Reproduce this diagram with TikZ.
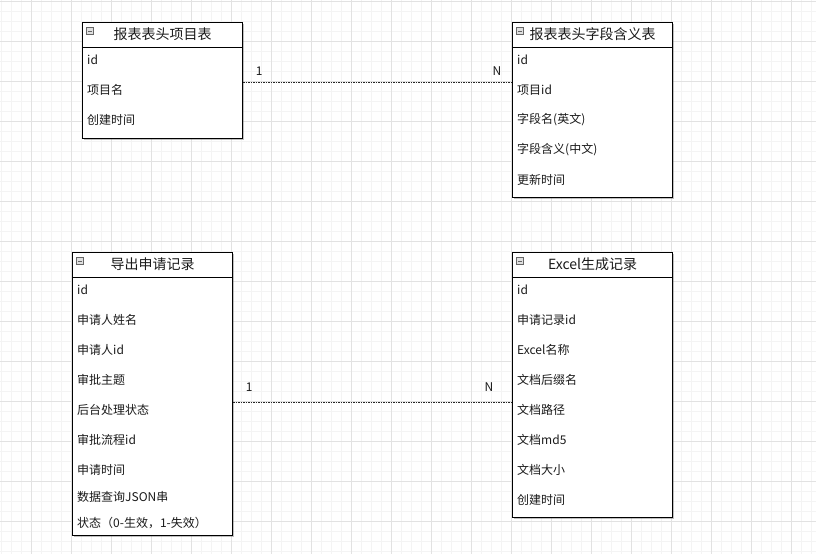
\documentclass[tikz,border=0pt]{standalone}
\usepackage{fontspec}
\setmainfont{Noto Sans CJK SC}
\usetikzlibrary{shadows}

\definecolor{gridmajor}{HTML}{E2E2E2}
\definecolor{gridminor}{HTML}{F4F4F4}
\definecolor{ink}{HTML}{1A1A1A}

\begin{document}
\begin{tikzpicture}[x=1pt, y=-1pt, >=latex,
	tbl/.style={draw=black, line width=1.1pt, fill=white, minimum width=160pt, inner sep=0pt, anchor=north west,
		drop shadow={shadow xshift=1.2pt, shadow yshift=-1.2pt, opacity=0.35, fill=black!70}},
	hline/.style={draw=black, line width=0.9pt},
	title/.style={font=\fontsize{14}{16}\selectfont, text=ink, inner sep=0pt},
	row/.style={font=\fontsize{12}{14}\selectfont, text=ink, anchor=west, inner sep=0pt},
	icon/.style={draw=black!60, fill=black!12, minimum size=7pt, inner sep=0pt, line width=0.5pt,
		path picture={\draw[line width=0.8pt] ([xshift=1.5pt]path picture bounding box.west) -- ([xshift=-1.5pt]path picture bounding box.east);}},
	rel/.style={draw=black!85, line width=0.8pt, dash pattern=on 1.5pt off 1pt},
	card/.style={font=\fontsize{12}{14}\selectfont, text=ink, inner sep=0pt}]

	%% background grid
	\useasboundingbox (0,0) rectangle (816,554);
	\fill[white] (0,0) rectangle (816,554);
	\foreach \x in {1.7,11.7,...,815} \draw[gridminor, line width=0.6pt] (\x,0) -- (\x,554);
	\foreach \y in {1.7,11.7,...,553} \draw[gridminor, line width=0.6pt] (0,\y) -- (816,\y);
	\foreach \x in {31.7,71.7,...,815} \draw[gridmajor, line width=0.8pt] (\x,0) -- (\x,554);
	\foreach \y in {1.7,41.7,...,553} \draw[gridmajor, line width=0.8pt] (0,\y) -- (816,\y);

	%% 报表表头项目表
	\node[tbl, minimum height=116pt] (proj) at (82,22) {};
	\draw[hline] ([yshift=-25pt]proj.north west) -- ([yshift=-25pt]proj.north east);
	\node[icon] (projIcon) at ([xshift=8pt, yshift=-9pt]proj.north west) {};
	\node[title] (projTitle) at ([yshift=-12.5pt]proj.north) {报表表头项目表};
	\foreach \y/\t [count=\i] in {38/id, 68/项目名, 98/创建时间}
		\node[row] (proj-\i) at ([xshift=5pt, yshift=-\y pt]proj.north west) {\t};

	%% 报表表头字段含义表
	\node[tbl, minimum height=175pt] (field) at (512,22) {};
	\draw[hline] ([yshift=-25pt]field.north west) -- ([yshift=-25pt]field.north east);
	\node[icon] (fieldIcon) at ([xshift=8pt, yshift=-9pt]field.north west) {};
	\node[title] (fieldTitle) at ([yshift=-12.5pt]field.north) {报表表头字段含义表};
	\foreach \y/\t [count=\i] in {38/id, 68/项目id, 98/字段名(英文), 128/字段含义(中文), 158/更新时间}
		\node[row] (field-\i) at ([xshift=5pt, yshift=-\y pt]field.north west) {\t};

	%% 导出申请记录
	\node[tbl, minimum height=283pt] (apply) at (72,252) {};
	\draw[hline] ([yshift=-25pt]apply.north west) -- ([yshift=-25pt]apply.north east);
	\node[icon] (applyIcon) at ([xshift=8pt, yshift=-9pt]apply.north west) {};
	\node[title] (applyTitle) at ([yshift=-12.5pt]apply.north) {导出申请记录};
	\foreach \y/\t [count=\i] in {38/id, 68/申请人姓名, 98/申请人id, 128/审批主题, 158/后台处理状态,
			188/审批流程id, 218/申请时间, 245/数据查询JSON串, 271/状态（0-生效，1-失效）}
		\node[row] (apply-\i) at ([xshift=5pt, yshift=-\y pt]apply.north west) {\t};

	%% Excel生成记录
	\node[tbl, minimum height=265pt] (excel) at (512,252) {};
	\draw[hline] ([yshift=-25pt]excel.north west) -- ([yshift=-25pt]excel.north east);
	\node[icon] (excelIcon) at ([xshift=8pt, yshift=-9pt]excel.north west) {};
	\node[title] (excelTitle) at ([yshift=-12.5pt]excel.north) {Excel生成记录};
	\foreach \y/\t [count=\i] in {38/id, 68/申请记录id, 98/Excel名称, 128/文档后缀名, 158/文档路径,
			188/文档md5, 218/文档大小, 248/创建时间}
		\node[row] (excel-\i) at ([xshift=5pt, yshift=-\y pt]excel.north west) {\t};

	%% relations
	\coordinate (projOut) at ([yshift=-2pt]proj.east);
	\draw[rel] (projOut) -- (projOut -| field.west);
	\node[card] (projOne) at ([xshift=16pt, yshift=11pt]projOut) {1};
	\node[card] (fieldMany) at ([xshift=-15pt, yshift=11pt]projOut -| field.west) {N};

	\coordinate (applyOut) at ([yshift=-8pt]apply.east);
	\draw[rel] (applyOut) -- (applyOut -| excel.west);
	\node[card] (applyOne) at ([xshift=16pt, yshift=15pt]applyOut) {1};
	\node[card] (excelMany) at ([xshift=-23pt, yshift=15pt]applyOut -| excel.west) {N};

\end{tikzpicture}
\end{document}
